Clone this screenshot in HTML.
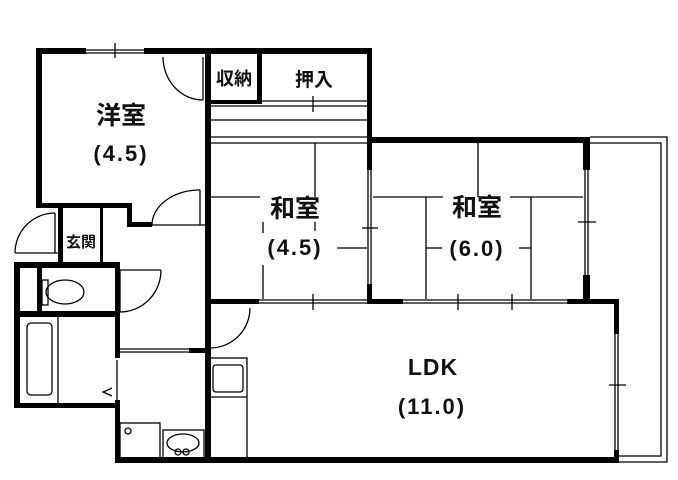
<!DOCTYPE html>
<html><head><meta charset="utf-8"><style>
html,body{margin:0;padding:0;background:#fff;}
svg{display:block}
text{font-family:"Liberation Sans","Noto Sans CJK JP",sans-serif;font-weight:bold;fill:#111;text-anchor:middle}
.p{font-size:22px;letter-spacing:2px}
</style></head><body>
<svg width="678" height="480" viewBox="0 0 678 480" xmlns="http://www.w3.org/2000/svg">
<g fill="#000">
<rect x="36" y="48" width="50" height="6"/>
<rect x="144" y="48" width="228" height="6"/>
<rect x="36" y="48" width="6" height="160"/>
<rect x="36" y="203" width="96" height="5"/>
<rect x="127" y="203" width="5" height="24"/>
<rect x="127" y="222" width="25" height="5"/>
<rect x="205" y="48" width="6" height="414"/>
<rect x="257" y="48" width="5" height="56"/>
<rect x="205" y="100" width="57" height="4"/>
<rect x="367" y="48" width="5" height="122"/>
<rect x="367" y="284" width="5" height="20"/>
<rect x="367" y="137" width="223" height="6"/>
<rect x="583" y="137" width="7" height="33"/>
<rect x="583" y="275" width="7" height="29"/>
<rect x="205" y="299" width="54" height="5"/>
<rect x="367" y="299" width="36" height="5"/>
<rect x="567" y="299" width="52" height="5"/>
<rect x="614" y="299" width="5" height="35"/>
<rect x="614" y="450" width="5" height="13"/>
<rect x="115" y="457" width="504" height="6"/>
<rect x="58" y="203" width="5" height="62"/>
<rect x="100" y="203" width="3" height="62"/>
<rect x="14" y="262" width="106" height="6"/>
<rect x="14" y="262" width="6" height="146"/>
<rect x="37" y="262" width="5" height="52"/>
<rect x="14" y="311" width="106" height="6"/>
<rect x="14" y="403" width="106" height="5"/>
<rect x="115" y="262" width="5" height="96"/>
<rect x="115" y="400" width="5" height="63"/>
<rect x="189" y="348" width="18" height="5"/>
</g>
<g fill="none" stroke="#000" stroke-width="1.3">
<line x1="86" y1="50" x2="144" y2="50"/><line x1="86" y1="53" x2="144" y2="53"/>
<line x1="115" y1="43" x2="115" y2="58"/>
<line x1="262" y1="101" x2="367" y2="101"/><line x1="211" y1="106" x2="367" y2="106"/>
<line x1="313" y1="96" x2="313" y2="112"/>
<line x1="211" y1="120" x2="367" y2="120"/>
<line x1="211" y1="137" x2="367" y2="137"/><line x1="211" y1="143" x2="367" y2="143"/>
<line x1="368" y1="170" x2="368" y2="284"/><line x1="371" y1="170" x2="371" y2="284"/>
<line x1="362" y1="228" x2="378" y2="228"/>
<line x1="315" y1="143" x2="315" y2="197"/>
<line x1="211" y1="197" x2="260" y2="197"/>
<line x1="263" y1="222" x2="263" y2="233"/>
<line x1="263" y1="265" x2="263" y2="299"/>
<line x1="315" y1="222" x2="315" y2="231"/>
<line x1="337" y1="248" x2="367" y2="248"/>
<line x1="478" y1="143" x2="478" y2="197"/>
<line x1="373" y1="197" x2="443" y2="197"/>
<line x1="510" y1="197" x2="583" y2="197"/>
<line x1="426" y1="197" x2="426" y2="299"/>
<line x1="531" y1="197" x2="531" y2="299"/>
<line x1="426" y1="248" x2="442" y2="248"/>
<line x1="519" y1="248" x2="531" y2="248"/>
<line x1="585" y1="170" x2="585" y2="275"/><line x1="588" y1="170" x2="588" y2="275"/>
<line x1="578" y1="222" x2="596" y2="222"/>
<line x1="259" y1="300" x2="367" y2="300"/><line x1="259" y1="303" x2="367" y2="303"/>
<line x1="313" y1="294" x2="313" y2="310"/>
<line x1="403" y1="300" x2="567" y2="300"/><line x1="403" y1="303" x2="567" y2="303"/>
<line x1="458" y1="294" x2="458" y2="310"/><line x1="512" y1="294" x2="512" y2="310"/>
<line x1="615" y1="334" x2="615" y2="450"/><line x1="618" y1="334" x2="618" y2="450"/>
<line x1="609" y1="385" x2="626" y2="385"/>
<path d="M590 137 H667 V462 H619"/>
<path d="M590 143 H661 V456 H619"/>
<line x1="203" y1="57" x2="203" y2="100"/>
<path d="M163 57 A40 43 0 0 0 203 100"/>
<line x1="200" y1="190" x2="200" y2="225"/>
<path d="M200 190 A48 35 0 0 0 152 225"/>
<line x1="152" y1="225" x2="205" y2="225"/>
<line x1="55" y1="213" x2="55" y2="253"/>
<path d="M55 213 A40 40 0 0 0 15 253"/>
<line x1="15" y1="253" x2="58" y2="253"/>
<line x1="120" y1="270" x2="120" y2="312"/>
<path d="M161 270 A41 42 0 0 1 120 312"/>
<line x1="120" y1="270" x2="161" y2="270"/>
<line x1="210" y1="308" x2="210" y2="348"/>
<path d="M250 308 A40 40 0 0 1 210 348"/>
<line x1="120" y1="349" x2="189" y2="349"/><line x1="120" y1="352" x2="189" y2="352"/>
<line x1="117" y1="360" x2="117" y2="400"/>
<path d="M112 388 L103 392 L112 396"/>
<rect x="42" y="280" width="6" height="25"/>
<ellipse cx="65" cy="292" rx="19" ry="12"/>
<rect x="27" y="323" width="25" height="72" rx="4"/>
<line x1="58" y1="317" x2="58" y2="403"/>
<rect x="120" y="423" width="40" height="35"/>
<circle cx="128" cy="431" r="3"/>
<rect x="163" y="430" width="41" height="28"/>
<ellipse cx="183" cy="443" rx="16" ry="9"/>
<circle cx="178" cy="452" r="3"/><circle cx="186" cy="452" r="3"/>
<rect x="210" y="358" width="37" height="100"/>
<rect x="213" y="365" width="30" height="27" rx="3"/>
<line x1="210" y1="397" x2="247" y2="397"/>
</g>
<text x="121" y="124" font-size="25">洋室</text>
<text x="121" y="161" class="p">(4.5)</text>
<text x="234" y="85" font-size="18">収納</text>
<text x="314" y="86" font-size="19">押入</text>
<text x="81" y="247" font-size="15">玄関</text>
<text x="295" y="217" font-size="25">和室</text>
<text x="295" y="255" class="p">(4.5)</text>
<text x="477" y="216" font-size="25">和室</text>
<text x="477" y="256" class="p">(6.0)</text>
<text x="433" y="375" font-size="23" letter-spacing="1">LDK</text>
<text x="432" y="414" class="p">(11.0)</text>
</svg>
</body></html>
